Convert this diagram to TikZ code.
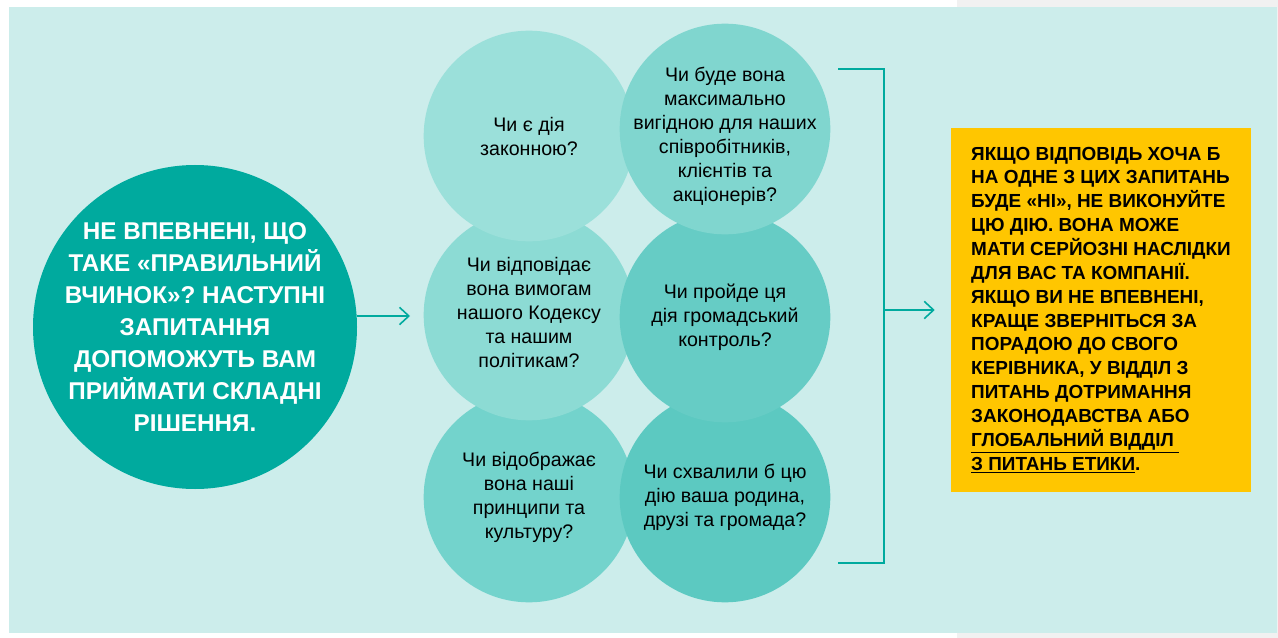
\documentclass[tikz,border=0pt]{standalone}
\usepackage{fontspec}
\setmainfont{Liberation Sans}
\usetikzlibrary{positioning,arrows.meta}

\definecolor{bgteal}{HTML}{CCEDEB}
\definecolor{greystrip}{HTML}{F1F1F1}
\definecolor{tealdark}{HTML}{00AA9E}
\definecolor{qa}{HTML}{9BE0DA}
\definecolor{qb}{HTML}{80D6CF}
\definecolor{qc}{HTML}{8CDBD4}
\definecolor{qd}{HTML}{66CCC5}
\definecolor{qe}{HTML}{73D3CC}
\definecolor{qf}{HTML}{5CC9C1}
\definecolor{advice}{HTML}{FFC600}

\begin{document}
\begin{tikzpicture}[x=0.75pt,y=-0.75pt,
    qball/.style={circle,inner sep=0pt,minimum size=158pt},
    qtext/.style={align=center,text=black,font=\fontsize{14.7}{18}\selectfont},
    arr/.style={draw=tealdark,line width=1.2pt,-{Straight Barb[length=7pt,width=13pt]}},
    brk/.style={draw=tealdark,line width=1.6pt}]
\useasboundingbox (0,0) rectangle (1278,638);
\fill[greystrip] (957,0) rectangle (1278,638);
\fill[bgteal] (9,7) rectangle (1277,633);

% lead circle
\node[circle,fill=tealdark,inner sep=0pt,minimum size=243pt] (lead) at (195,327) {};
\node[align=center,text=white,font=\bfseries\fontsize{18.2}{24}\selectfont] (leadtxt) at (lead)
    {НЕ ВПЕВНЕНІ, ЩО\\ТАКЕ «ПРАВИЛЬНИЙ\\ВЧИНОК»? НАСТУПНІ\\ЗАПИТАННЯ\\ДОПОМОЖУТЬ ВАМ\\ПРИЙМАТИ СКЛАДНІ\\РІШЕННЯ.};

% question circles, bottom row first
\node[qball,fill=qe] (q5) at (529,497) {};
\node[qtext] (q5txt) at (q5) {Чи відображає\\вона наші\\принципи та\\культуру?};
\node[qball,fill=qf] (q6) at (725,497) {};
\node[qtext] (q6txt) at (q6) {Чи схвалили б цю\\дію ваша родина,\\друзі та громада?};
\node[qball,fill=qc] (q3) at (529,315) {};
\node[qtext] (q3txt) at ([yshift=2.25pt]q3) {Чи відповідає\\вона вимогам\\нашого Кодексу\\та нашим\\політикам?};
\node[qball,fill=qd] (q4) at (725,317) {};
\node[qtext] (q4txt) at (q4) {Чи пройде ця\\дія громадський\\контроль?};
\node[qball,fill=qa] (q1) at (529,136) {};
\node[qtext] (q1txt) at (q1) {Чи є дія\\законною?};
\node[qball,fill=qb] (q2) at (725,129) {};
\node[qtext] (q2txt) at ([yshift=-5.25pt]q2) {Чи буде вона\\максимально\\вигідною для наших\\співробітників,\\клієнтів та\\акціонерів?};

% advice box
\node[fill=advice,minimum width=225pt,minimum height=273pt,align=left,text=black,
      font=\bfseries\fontsize{14.2}{17.9}\selectfont] (advice) at (1101,310)
    {ЯКЩО ВІДПОВІДЬ ХОЧА Б\\НА ОДНЕ З ЦИХ ЗАПИТАНЬ\\БУДЕ «НІ», НЕ ВИКОНУЙТЕ\\ЦЮ ДІЮ. ВОНА МОЖЕ\\МАТИ СЕРЙОЗНІ НАСЛІДКИ\\ДЛЯ ВАС ТА КОМПАНІЇ.\\ЯКЩО ВИ НЕ ВПЕВНЕНІ,\\КРАЩЕ ЗВЕРНІТЬСЯ ЗА\\ПОРАДОЮ ДО СВОГО\\КЕРІВНИКА, У ВІДДІЛ З\\ПИТАНЬ ДОТРИМАННЯ\\ЗАКОНОДАВСТВА АБО\\\underline{ГЛОБАЛЬНИЙ ВІДДІЛ\ }\\\underline{З ПИТАНЬ ЕТИКИ}.};

% connectors
\coordinate (qin) at (410,316);
\draw[arr] (lead.east |- qin) -- (qin);
\coordinate (bt) at (838,69);
\coordinate (bb) at (838,563);
\coordinate (bm) at (884,310);
\draw[brk] (bt) -- (bt -| bm) -- (bb -| bm) -- (bb);
\draw[arr] (bm) -- ([xshift=-12pt]advice.west);
\end{tikzpicture}
\end{document}
